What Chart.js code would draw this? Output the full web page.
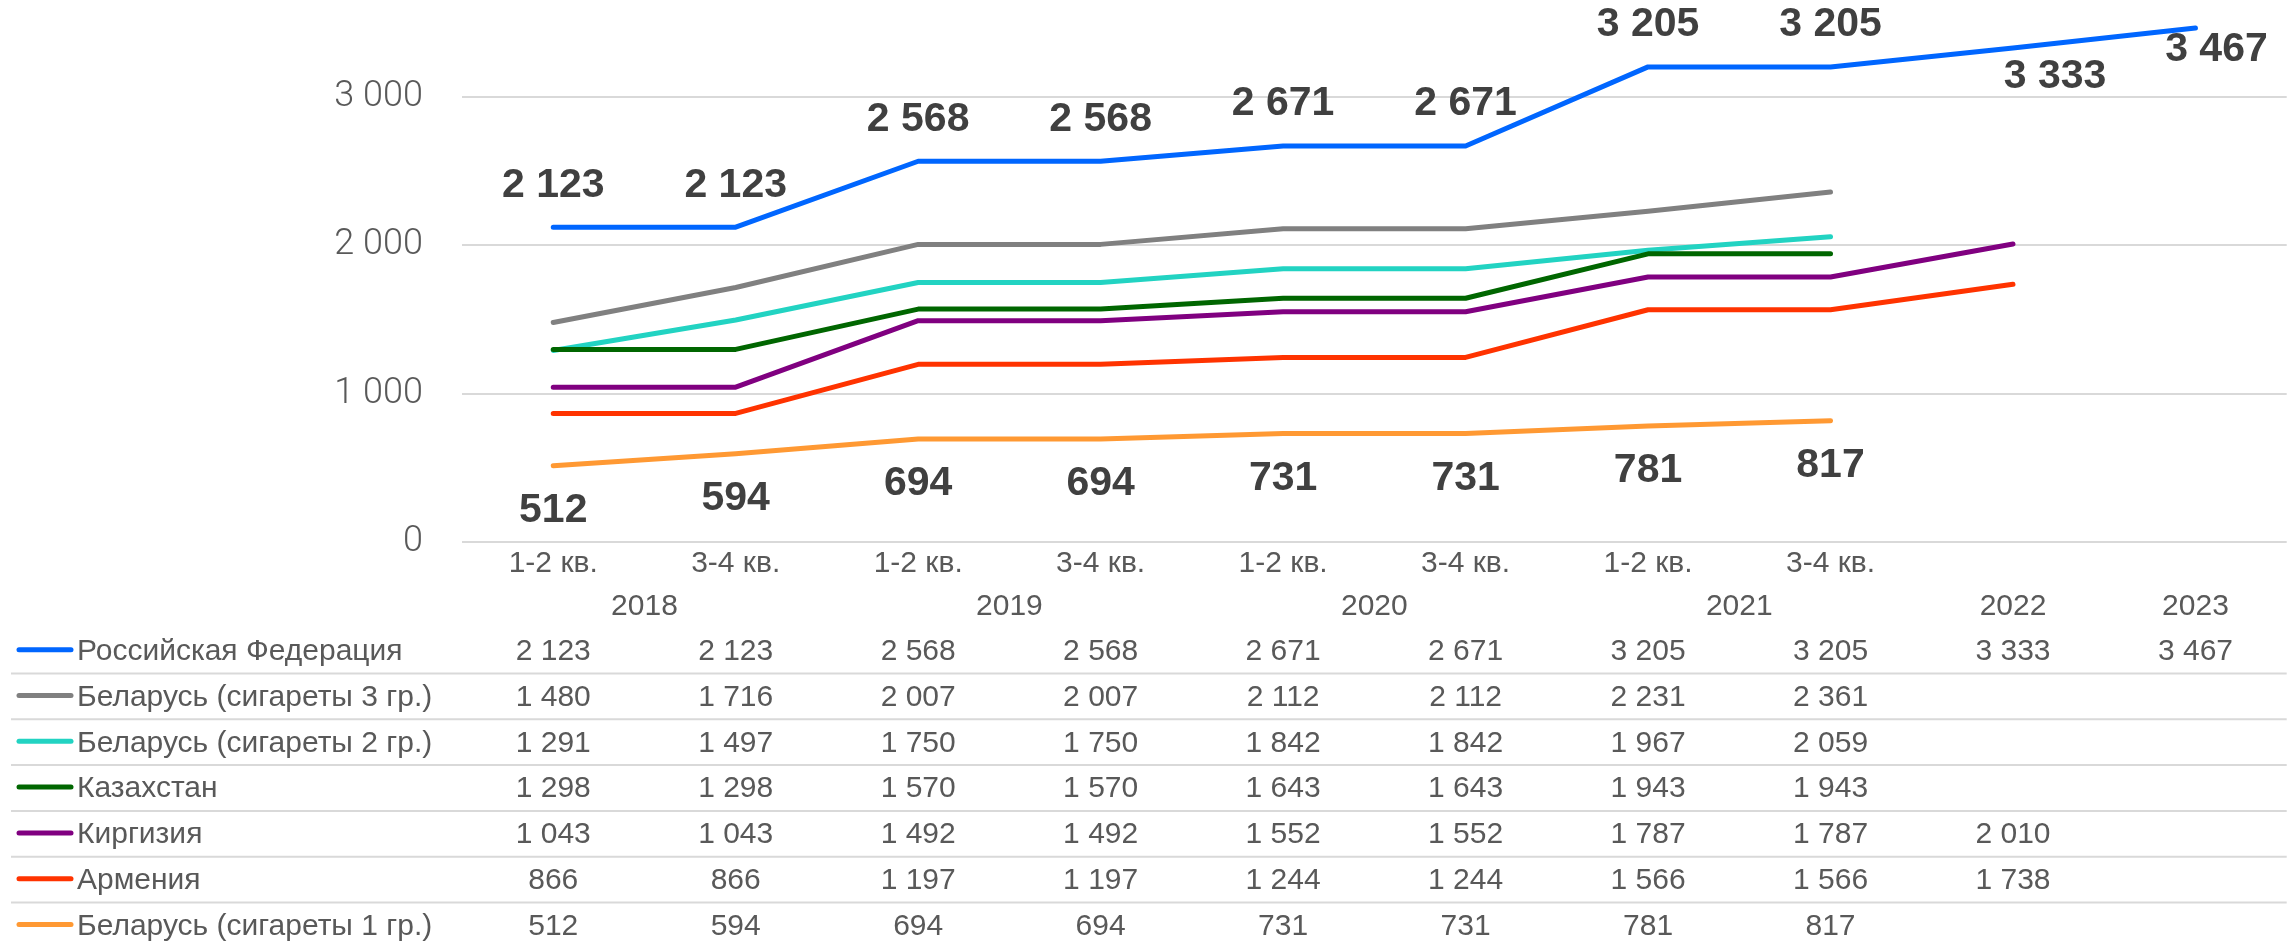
<!DOCTYPE html>
<html lang="ru">
<head>
<meta charset="UTF-8">
<title>Цены на сигареты</title>
<script src="https://cdn.jsdelivr.net/npm/chart.js"></script>
<style>
  html, body { margin: 0; padding: 0; background: #fff; }
  canvas { display: block; }
</style>
</head>
<body>
<canvas id="priceChart" width="2293" height="945"></canvas>
<script>
const periods = ['1-2 кв.', '3-4 кв.', '1-2 кв.', '3-4 кв.', '1-2 кв.', '3-4 кв.', '1-2 кв.', '3-4 кв.', '', ''];
const periodYears = ['2018', '2018', '2019', '2019', '2020', '2020', '2021', '2021', '2022', '2023'];
const yTicks = [0, 1000, 2000, 3000];

const russia     = [2123, 2123, 2568, 2568, 2671, 2671, 3205, 3205, 3333, 3467];
const belarus3   = [1480, 1716, 2007, 2007, 2112, 2112, 2231, 2361, null, null];
const belarus2   = [1291, 1497, 1750, 1750, 1842, 1842, 1967, 2059, null, null];
const kazakhstan = [1298, 1298, 1570, 1570, 1643, 1643, 1943, 1943, null, null];
const kirgizia   = [1043, 1043, 1492, 1492, 1552, 1552, 1787, 1787, 2010, null];
const armenia    = [866, 866, 1197, 1197, 1244, 1244, 1566, 1566, 1738, null];
const belarus1   = [512, 594, 694, 694, 731, 731, 781, 817, null, null];

const seriesNames = [
    'Российская Федерация',
    'Беларусь (сигареты 3 гр.)',
    'Беларусь (сигареты 2 гр.)',
    'Казахстан',
    'Киргизия',
    'Армения',
    'Беларусь (сигареты 1 гр.)'
];
const seriesValues = [russia, belarus3, belarus2, kazakhstan, kirgizia, armenia, belarus1];
const seriesColors = ['#0066FF', '#808080', '#22D3C2', '#006600', '#800080', '#FF3300', '#FF9933'];

const textGray = '#595959';
const sans = '"Liberation Sans", Arial, sans-serif';

// 2123 -> "2 123"
const fmt = v => String(v).replace(/\B(?=(\d{3})+(?!\d))/g, ' ');

// bold value labels: Russia over its line, Belarus 1 gr. under it
const valueLabels = {
    id: 'valueLabels',
    afterDatasetsDraw(chart) {
        const ctx = chart.ctx;
        ctx.save();
        ctx.font = 'bold 41px ' + sans;
        ctx.fillStyle = '#404040';
        ctx.textAlign = 'center';
        ctx.textBaseline = 'middle';

        chart.getDatasetMeta(0).data.forEach((pt, i) => {
            let x = pt.x, y = pt.y - 42;
            // yearly values sit below the line, pushed right
            if (i === 8) { x += 42; y = pt.y + 29; }
            if (i === 9) { x += 21; y = pt.y + 22; }
            ctx.fillText(fmt(russia[i]), x, y);
        });

        chart.getDatasetMeta(6).data.forEach((pt, i) => {
            if (belarus1[i] == null) return;
            ctx.fillText(fmt(belarus1[i]), pt.x, pt.y + 45);
        });
        ctx.restore();
    }
};

// year row + data table under the axis
const dataTable = {
    id: 'dataTable',
    afterDraw(chart) {
        const ctx = chart.ctx;
        const x = chart.scales.x;
        const top = chart.chartArea.bottom;
        const rowH = 45.8;

        ctx.save();
        ctx.font = '30px ' + sans;
        ctx.fillStyle = textGray;
        ctx.textBaseline = 'middle';
        ctx.textAlign = 'center';

        let start = 0;
        for (let i = 1; i <= periodYears.length; i++) {
            if (i === periodYears.length || periodYears[i] !== periodYears[start]) {
                const cx = (x.getPixelForValue(start) + x.getPixelForValue(i - 1)) / 2;
                ctx.fillText(periodYears[start], cx, top + 65);
                start = i;
            }
        }

        seriesNames.forEach((name, r) => {
            const cy = top + 110 + r * rowH;

            if (r > 0) {
                ctx.strokeStyle = '#d9d9d9';
                ctx.lineWidth = 2;
                ctx.beginPath();
                ctx.moveTo(11, cy - 24);
                ctx.lineTo(chart.chartArea.right, cy - 24);
                ctx.stroke();
            }

            ctx.strokeStyle = seriesColors[r];
            ctx.lineWidth = 5;
            ctx.lineCap = 'round';
            ctx.beginPath();
            ctx.moveTo(19, cy - 2);
            ctx.lineTo(71, cy - 2);
            ctx.stroke();
            ctx.lineCap = 'butt';

            ctx.textAlign = 'left';
            ctx.fillText(name, 77, cy);

            ctx.textAlign = 'center';
            seriesValues[r].forEach((v, i) => {
                if (v == null) return;
                ctx.fillText(fmt(v), x.getPixelForValue(i), cy);
            });
        });
        ctx.restore();
    }
};

const ctx = document.getElementById('priceChart').getContext('2d');

const priceChart = new Chart(ctx, {
    type: 'line',
    data: {
        labels: periods,
        datasets: seriesNames.map((name, i) => ({
            label: name,
            data: seriesValues[i],
            borderColor: seriesColors[i],
            backgroundColor: seriesColors[i],
            borderWidth: 5,
            borderCapStyle: 'round',
            borderJoinStyle: 'round',
            pointRadius: 0,
            pointHoverRadius: 0,
            tension: 0,
            fill: false,
            order: seriesNames.length - i
        }))
    },
    options: {
        responsive: false,
        animation: false,
        devicePixelRatio: 1,
        layout: {
            autoPadding: false,
            padding: { top: 23.2, right: 6.3, left: 0, bottom: 0 }
        },
        plugins: {
            legend: { display: false },
            tooltip: { enabled: false }
        },
        scales: {
            x: {
                offset: true,
                grid: { display: false, drawTicks: false },
                border: { display: false },
                ticks: {
                    color: textGray,
                    font: { size: 30, family: sans },
                    padding: 4,
                    maxRotation: 0,
                    autoSkip: false
                },
                afterFit(scale) { scale.height = 403.3; }
            },
            y: {
                min: 0,
                max: 3500,
                // invisible tick marks give the gap between labels and plot
                grid: { color: '#d9d9d9', lineWidth: 2, drawTicks: true, tickLength: 39, tickColor: 'rgba(0,0,0,0)' },
                border: { display: false },
                ticks: {
                    padding: 0,
                    color: textGray,
                    font: { size: 36, weight: 300, family: 'Roboto' },
                    callback: v => fmt(v)
                },
                afterBuildTicks(scale) { scale.ticks = yTicks.map(v => ({ value: v })); },
                afterFit(scale) { scale.width = 462; }
            }
        }
    },
    plugins: [valueLabels, dataTable]
});
</script>
</body>
</html>
